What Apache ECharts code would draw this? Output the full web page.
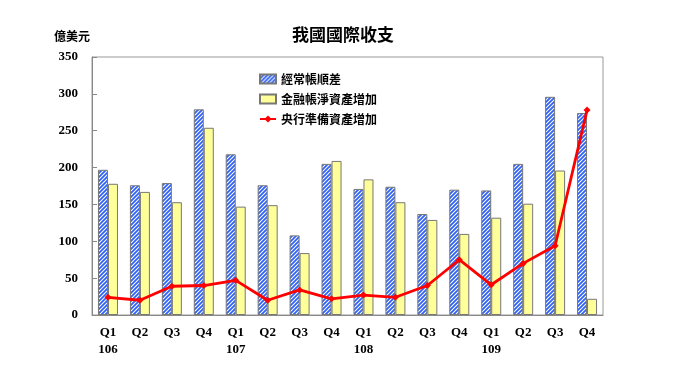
<!DOCTYPE html>
<html><head><meta charset="utf-8">
<script src="https://cdn.jsdelivr.net/npm/echarts@6/dist/echarts.min.js"></script>
<style>html,body{margin:0;padding:0;background:#fff}#c{width:690px;height:381px}</style>
</head><body><div id="c"></div>
<script>
var categories = ['Q1\n106','Q2','Q3','Q4','Q1\n107','Q2','Q3','Q4','Q1\n108','Q2','Q3','Q4','Q1\n109','Q2','Q3','Q4'];
var currentAccount = [197,176,179,279,218,176,108,205,171,174,137,170,169,205,296,274];
var financialAssets = [178,167,153,254,147,149,84,209,184,153,129,110,132,151,196,22];
var reserveAssets = [24,20,39,40,47,20,34,22,27,24,40,75,41,70,94,278];
var seriesNames = ['經常帳順差','金融帳淨資產增加','央行準備資產增加'];

function stripes(){
  var c = document.createElement('canvas');
  c.width = 4; c.height = 4;
  var g = c.getContext('2d');
  g.fillStyle = '#ffffff'; g.fillRect(0,0,4,4);
  g.strokeStyle = '#2f62f5'; g.lineWidth = 1.8;
  g.beginPath();
  g.moveTo(-1,5); g.lineTo(5,-1);
  g.moveTo(-1,1); g.lineTo(1,-1);
  g.moveTo(3,5); g.lineTo(5,3);
  g.stroke();
  return c;
}
var pat = {image: stripes(), repeat: 'repeat'};
var serif = '"Liberation Serif","Times New Roman",serif';
var cjk = '"Noto Sans CJK TC","Noto Sans CJK SC",sans-serif';

var chart = echarts.init(document.getElementById('c'), null, {renderer:'canvas'});
chart.setOption({
  animation: false,
  backgroundColor: '#fff',
  title: {
    text: '我國國際收支', left: 338, top: 21, textAlign: 'center',
    textStyle: {fontFamily: cjk, fontSize: 17, fontWeight: 'bold', color: '#000'}
  },
  graphic: [{
    type: 'text', left: 54, top: 30,
    style: {text: '億美元', fontFamily: cjk, fontSize: 12, fontWeight: 'bold', fill: '#000'}
  }],
  legend: {
    orient: 'vertical', left: 254, top: 68, itemGap: 8,
    itemWidth: 16, itemHeight: 9,
    textStyle: {fontFamily: cjk, fontSize: 12, color: '#000', fontWeight: 'bold'},
    data: [
      {name: seriesNames[0], icon: 'rect'},
      {name: seriesNames[1], icon: 'rect'},
      {name: seriesNames[2]}
    ]
  },
  grid: {left: 92, right: 87, top: 57, bottom: 66, show: true, borderColor: '#999', borderWidth: 1},
  xAxis: {
    type: 'category', data: categories,
    axisLine: {lineStyle: {color: '#888'}},
    axisTick: {inside: true, length: 4, lineStyle: {color: '#888'}},
    axisLabel: {fontFamily: serif, fontSize: 13, fontWeight: 'bold', color: '#000', margin: 9, lineHeight: 17, align: 'center'}
  },
  yAxis: {
    type: 'value', min: 0, max: 350, interval: 50,
    splitLine: {show: false},
    axisLine: {show: true, lineStyle: {color: '#888'}},
    axisTick: {show: true, inside: true, length: 5, lineStyle: {color: '#888'}},
    axisLabel: {fontFamily: serif, fontSize: 13, fontWeight: 'bold', color: '#000', margin: 14}
  },
  series: [
    {name: seriesNames[0], type: 'bar', data: currentAccount, barWidth: 10, barGap: '0%',
     itemStyle: {color: pat, borderColor: '#777', borderWidth: 1}},
    {name: seriesNames[1], type: 'bar', data: financialAssets, barWidth: 10,
     itemStyle: {color: '#ffff99', borderColor: '#777', borderWidth: 1}},
    {name: seriesNames[2], type: 'line', data: reserveAssets, symbol: 'diamond', symbolSize: 7,
     lineStyle: {color: '#ff0000', width: 2.8}, itemStyle: {color: '#ff0000'}}
  ]
});
</script></body></html>
